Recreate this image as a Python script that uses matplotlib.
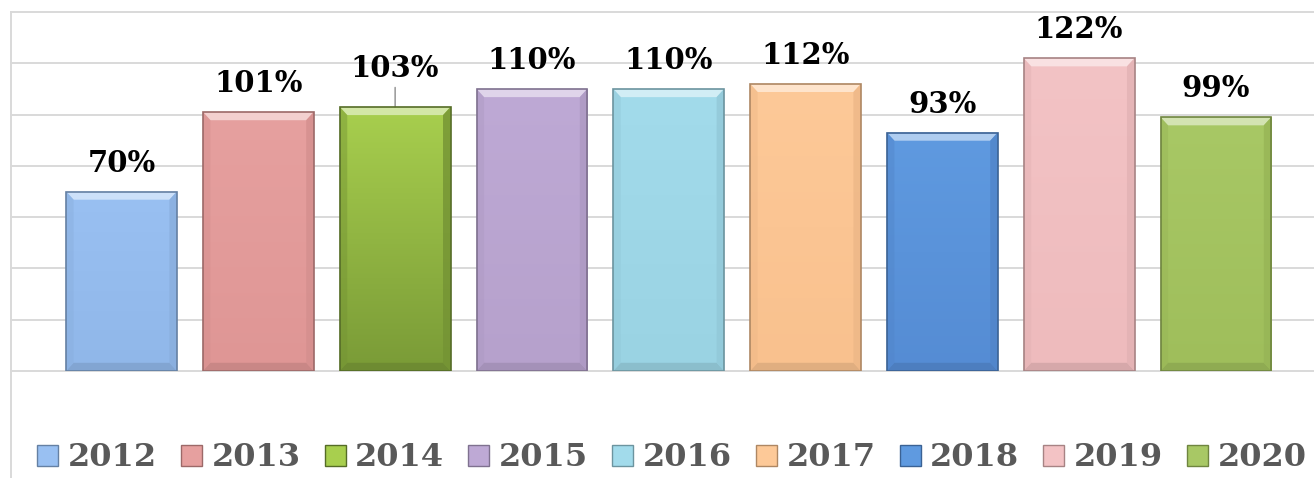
import matplotlib.pyplot as plt
import matplotlib.colors as mcolors
from matplotlib.patches import Patch, Polygon
from matplotlib.lines import Line2D
import numpy as np

years = ['2012', '2013', '2014', '2015', '2016', '2017', '2018', '2019', '2020']
values = [70, 101, 103, 110, 110, 112, 93, 122, 99]
labels = ['70%', '101%', '103%', '110%', '110%', '112%', '93%', '122%', '99%']
grid_ticks = [0, 20, 40, 60, 80, 100, 120, 140]

top_colors = ['#99c0f2', '#e6a09f', '#a8cf4e', '#bea9d5', '#a2dbeb', '#fdc998',
              '#5f9ae0', '#f3c3c5', '#a8c865']
bot_colors = ['#90b7e9', '#df9695', '#7a9b37', '#b6a1cc', '#9ad3e3', '#f9c18e',
              '#558cd4', '#eebbbd', '#9fbe5b']

W, H = 1314, 478
fig = plt.figure(figsize=(W / 100, H / 100), dpi=100)
ax = fig.add_axes([11 / W, (H - 371) / H, 1 - 11 / W, (371 - 12) / H])
ax.set_xlim(-0.808, 8.717)
ax.set_ylim(0, 140)
ax.axis('off')

for t in grid_ticks:
    ax.axhline(t, color='#d9d9d9', lw=1.4, zorder=0, clip_on=False)

# left border of the chart box
fig.add_artist(Line2D([11 / W, 11 / W], [0, (H - 12) / H], color='#d9d9d9', lw=1.4))

bw = 0.81
x = np.arange(len(years))
bars = ax.bar(x, values, width=bw, color=top_colors, zorder=2)

# vertical gradient + bevel on every bar
bev_x = 0.055
bev_y = 3.2
for i, b in enumerate(bars):
    x0, y0 = b.get_x(), 0
    x1, y1 = x0 + b.get_width(), b.get_height()
    cmap = mcolors.LinearSegmentedColormap.from_list('g', [bot_colors[i], top_colors[i]])
    grad = np.linspace(0, 1, 100).reshape(-1, 1)
    im = ax.imshow(grad, cmap=cmap, origin='lower', aspect='auto',
                   extent=(x0, x1, y0, y1), zorder=2)
    im.set_clip_path(b)
    b.set_facecolor('none')
    edge = np.array(mcolors.to_rgb(bot_colors[i])) * 0.7
    b.set_edgecolor(edge)
    b.set_linewidth(1.2)
    b.set_zorder(4)
    base = np.array(mcolors.to_rgb(top_colors[i]))
    light = 1 - (1 - base) * 0.5
    dark = np.array(mcolors.to_rgb(bot_colors[i])) * 0.9
    side = np.array(mcolors.to_rgb(bot_colors[i])) * 0.95
    ax.add_patch(Polygon([(x0, y1), (x1, y1), (x1 - bev_x, y1 - bev_y), (x0 + bev_x, y1 - bev_y)],
                         closed=True, fc=light, ec='none', zorder=3))
    ax.add_patch(Polygon([(x0, y0), (x1, y0), (x1 - bev_x, y0 + bev_y), (x0 + bev_x, y0 + bev_y)],
                         closed=True, fc=dark, ec='none', zorder=3))
    ax.add_patch(Polygon([(x1, y0), (x1, y1), (x1 - bev_x, y1 - bev_y), (x1 - bev_x, y0 + bev_y)],
                         closed=True, fc=side, ec='none', alpha=0.8, zorder=3))
    ax.add_patch(Polygon([(x0, y0), (x0, y1), (x0 + bev_x, y1 - bev_y), (x0 + bev_x, y0 + bev_y)],
                         closed=True, fc=side, ec='none', alpha=0.45, zorder=3))

lab_font = dict(family='DejaVu Serif', fontweight='bold', fontsize=21, color='black')
for i, v in enumerate(values):
    if labels[i] == '103%':
        ax.annotate(labels[i], (x[i], v), xytext=(0, 17), textcoords='offset points',
                    ha='center', va='bottom', **lab_font,
                    arrowprops=dict(arrowstyle='-', color='#8c8c8c', lw=1, shrinkA=1, shrinkB=0))
    else:
        ax.annotate(labels[i], (x[i], v), xytext=(0, 10), textcoords='offset points',
                    ha='center', va='bottom', **lab_font)

handles = [Patch(facecolor=top_colors[i], edgecolor=np.array(mcolors.to_rgb(bot_colors[i])) * 0.7,
                 label=years[i]) for i in range(len(years))]
leg = fig.legend(handles=handles, loc='center', bbox_to_anchor=(672 / W, 20 / H), ncol=9,
                 frameon=False, handlelength=0.66, handleheight=0.66, handletextpad=0.3,
                 columnspacing=0.75, borderpad=0,
                 prop=dict(family='DejaVu Serif', weight='bold', size=23))
for t in leg.get_texts():
    t.set_color('#595959')

fig.savefig('out.png', dpi=100)
